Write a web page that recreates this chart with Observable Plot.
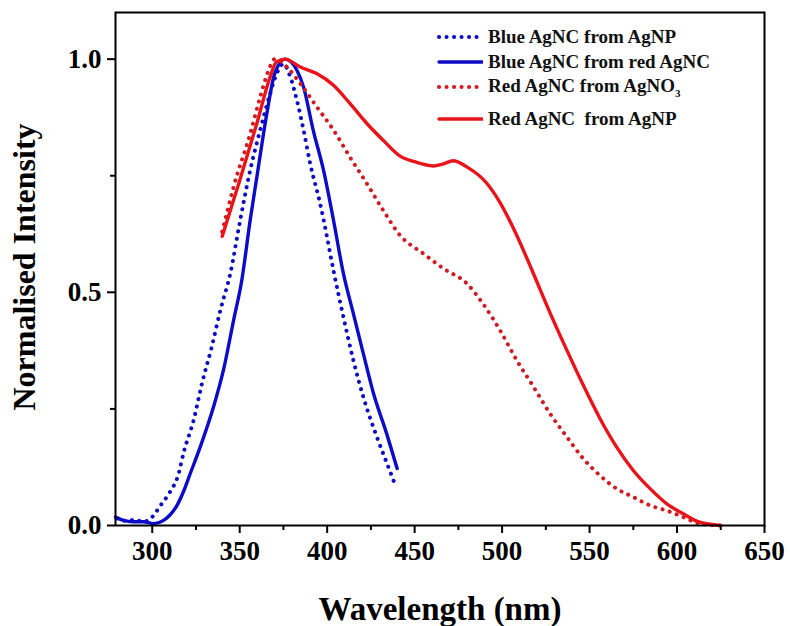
<!DOCTYPE html>
<html><head><meta charset="utf-8">
<script src="https://cdn.jsdelivr.net/npm/d3@7"></script>
<script src="https://cdn.jsdelivr.net/npm/@observablehq/plot@0.6"></script>
<style>
body{margin:0;background:#fff;}
#wrap{position:relative;width:790px;height:626px;}
#legend{position:absolute;left:0;top:0;font-family:"Liberation Serif","Times New Roman",serif;font-weight:bold;font-size:19px;color:#111;}
.row{position:absolute;white-space:pre;display:flex;align-items:center;height:24px;}
.row svg{margin-right:5px;}
sub{font-size:11px;vertical-align:-5px;}
</style></head><body><div id="wrap"></div>
<script>
const xTicks = [300, 350, 400, 450, 500, 550, 600, 650];
const xMinor = [325, 375, 425, 475, 525, 575, 625];
const yTicks = [0, 0.5, 1.0];
const yMinor = [0.25, 0.75];

const seriesNames = ["Blue AgNC from AgNP", "Blue AgNC from red AgNC", "Red AgNC from AgNO3", "Red AgNC  from AgNP"];
const seriesColors = ["#0c0cc4", "#0c0cc8", "#d01c20", "#e8141a"];
const seriesDashed = [true, false, true, false];

const blueNP_wl  = [280, 285, 290, 295, 299, 305.5, 310, 315, 318, 323.6, 328.4, 334, 338.9, 344.6, 350.3, 356, 361.7, 367.4, 372, 375, 378.9, 382.7, 386.5, 390.3, 396, 398, 403.6, 409.3, 415, 420.7, 428.4, 434, 439];
const blueNP_val = [0.015, 0.01, 0.012, 0.008, 0.015, 0.047, 0.071, 0.11, 0.157, 0.225, 0.304, 0.383, 0.461, 0.54, 0.655, 0.762, 0.848, 0.926, 0.976, 0.99, 0.962, 0.912, 0.848, 0.776, 0.69, 0.655, 0.547, 0.447, 0.354, 0.275, 0.19, 0.135, 0.086];

const blueRed_wl  = [279, 283.6, 289, 295, 300.8, 306.5, 310, 314, 318, 321.7, 327.4, 335, 340.7, 346.5, 351.2, 356, 359.8, 365.5, 370, 376, 382.7, 386.5, 392, 397.9, 403.6, 409.3, 415, 420.7, 426.5, 434, 440];
const blueRed_val = [0.018, 0.011, 0.008, 0.008, 0.004, 0.011, 0.022, 0.042, 0.074, 0.111, 0.168, 0.254, 0.333, 0.44, 0.526, 0.655, 0.747, 0.883, 0.969, 1.0, 0.976, 0.94, 0.848, 0.762, 0.655, 0.54, 0.454, 0.368, 0.283, 0.197, 0.122];

const redNO3_wl  = [340, 346.5, 356, 361.7, 366.5, 370, 377, 384.6, 394, 403.6, 413, 422.7, 432, 441.7, 455, 466.5, 479.8, 489, 498.9, 508.4, 518, 527.4, 537, 546.5, 556, 565.5, 575, 584.6, 594, 603.6, 613, 625];
const redNO3_val = [0.63, 0.726, 0.84, 0.919, 0.976, 1.0, 0.983, 0.948, 0.898, 0.848, 0.79, 0.733, 0.676, 0.622, 0.583, 0.551, 0.519, 0.476, 0.418, 0.354, 0.297, 0.24, 0.19, 0.143, 0.107, 0.079, 0.061, 0.043, 0.032, 0.018, 0.004, 0.0];

const redNP_wl  = [340, 350, 359.8, 367.4, 371, 376, 384.6, 394, 403.6, 413, 422.7, 432, 441.7, 450, 460.6, 466, 472, 479.8, 491, 498.9, 508.4, 517.7, 527.4, 537, 546.5, 556, 565.5, 575, 584.6, 594, 603.6, 613, 625];
const redNP_val = [0.62, 0.74, 0.862, 0.962, 0.994, 1.0, 0.983, 0.969, 0.944, 0.905, 0.862, 0.826, 0.792, 0.78, 0.771, 0.775, 0.782, 0.769, 0.735, 0.692, 0.622, 0.542, 0.456, 0.376, 0.3, 0.229, 0.168, 0.118, 0.079, 0.047, 0.025, 0.007, 0.0];

const allWl = [blueNP_wl, blueRed_wl, redNO3_wl, redNP_wl];
const allVal = [blueNP_val, blueRed_val, redNO3_val, redNP_val];

const FONT = '"Liberation Serif","Times New Roman",serif';
const DOT = "0.1 7.4";

const lineMarks = allWl.map((wl, i) => {
  const rows = wl.map((w, j) => ({wl: w, v: allVal[i][j]}));
  return Plot.line(rows, {
    x: "wl", y: "v", curve: "monotone-x",
    stroke: seriesColors[i],
    strokeWidth: seriesDashed[i] ? 4 : 3.4,
    strokeDasharray: seriesDashed[i] ? DOT : null,
    strokeLinecap: "round"
  });
});

const chart = Plot.plot({
  width: 790, height: 626,
  marginLeft: 115, marginRight: 26, marginTop: 12, marginBottom: 101,
  style: {fontFamily: FONT, fontWeight: "bold", background: "#fff", color: "#000"},
  x: {domain: [279, 650]},
  y: {domain: [0, 1.1]},
  marks: [
    ...lineMarks,
    Plot.frame({strokeWidth: 2}),
    Plot.axisX(xTicks, {tickSize: 8, tickPadding: 7, strokeWidth: 2, fontSize: 27, fontWeight: "bold", label: null, tickFormat: d => String(d)}),
    Plot.axisX(xMinor, {tickSize: 5, strokeWidth: 2, text: null, label: null}),
    Plot.axisY(yTicks, {tickSize: 8, tickPadding: 6, strokeWidth: 2, fontSize: 27, fontWeight: "bold", label: null, tickFormat: d3.format(".1f")}),
    Plot.axisY(yMinor, {tickSize: 5, strokeWidth: 2, text: null, label: null}),
    Plot.text(["Wavelength (nm)"], {text: d => d, frameAnchor: "bottom", textAnchor: "middle", lineAnchor: "middle", dy: 84, fontSize: 33, fontWeight: "bold"}),
    Plot.text(["Normalised Intensity"], {text: d => d, frameAnchor: "left", textAnchor: "middle", lineAnchor: "middle", dx: -91, dy: -2, rotate: -90, fontSize: 32, fontWeight: "bold"})
  ]
});
const wrap = document.getElementById("wrap");
wrap.appendChild(chart);

// legend overlay
const legend = document.createElement("div");
legend.id = "legend";
const rowCenters = [37, 62, 87, 119];
seriesNames.forEach((name, i) => {
  const row = document.createElement("div");
  row.className = "row";
  row.style.left = "437px";
  row.style.top = (rowCenters[i] - 12) + "px";
  const dash = seriesDashed[i] ? `stroke-dasharray="${DOT}" stroke-width="4"` : `stroke-width="3.4"`;
  const label = name.replace("AgNO3", "AgNO<sub>3</sub>");
  row.innerHTML = `<svg width="46" height="10"><line x1="2" y1="5" x2="45" y2="5" stroke="${seriesColors[i]}" stroke-linecap="round" ${dash}/></svg><span>${label}</span>`;
  legend.appendChild(row);
});
wrap.appendChild(legend);
</script>
</body></html>
